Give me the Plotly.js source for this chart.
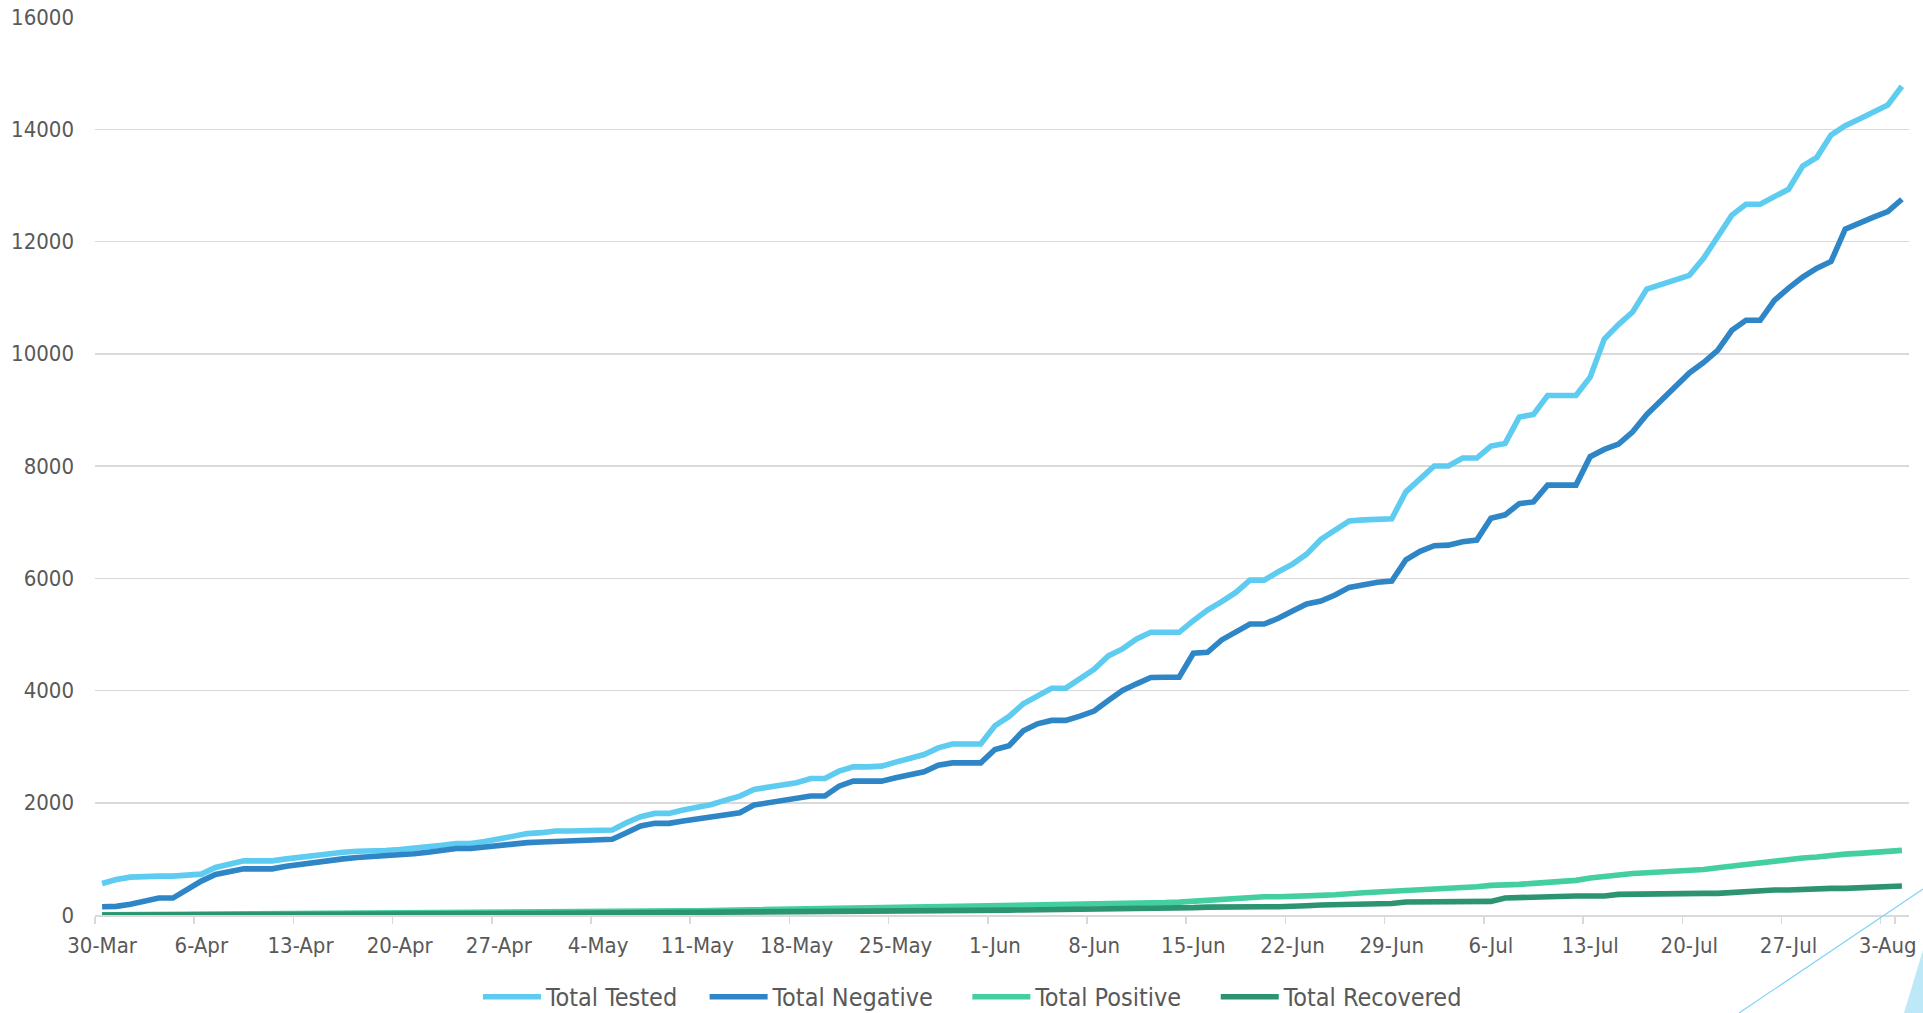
<!DOCTYPE html>
<html>
<head>
<meta charset="utf-8">
<script src="https://cdn.plot.ly/plotly-3.0.1.min.js"></script>
<style>
  html, body { margin: 0; padding: 0; background: #ffffff; }
  #chart { width: 1923px; height: 1013px; }
  #chart text { font-stretch: condensed; }
</style>
</head>
<body>
<div id="chart"></div>
<script>
// Daily series, 30-Mar to 4-Aug
const startDate = "2020-03-30";
const dayCount = 128;

const tickLabels = ["30-Mar","6-Apr","13-Apr","20-Apr","27-Apr","4-May","11-May","18-May","25-May",
  "1-Jun","8-Jun","15-Jun","22-Jun","29-Jun","6-Jul","13-Jul","20-Jul","27-Jul","3-Aug"];

const seriesNames = ["Total Tested","Total Negative","Total Positive","Total Recovered"];

const totalTested = [
  562,633,675,693,693,693,710,728,847,918,
  965,965,965,1000,1030,1072,1101,1119,1137,1137,
  1148,1166,1184,1220,1243,1273,1273,1308,1360,1395,
  1450,1467,1496,1496,1496,1496,1514,1644,1751,1810,
  1810,1870,1917,1970,2047,2119,2237,2273,2314,2356,
  2433,2433,2563,2640,2640,2652,2723,2788,2859,2978,
  3046,3046,3046,3372,3538,3763,3893,4041,4041,4201,
  4379,4616,4741,4919,5037,5037,5037,5244,5434,5582,
  5748,5967,5967,6116,6252,6430,6690,6856,7022,7040,
  7040,7060,7540,7760,8000,8000,8142,8142,8356,8403,
  8871,8919,9256,9256,9256,9582,10264,10519,10744,11153,
  11230,11301,11396,11700,12080,12470,12664,12664,12800,12930,
  13345,13499,13896,14062,14181,14299,14430,14767
];

const totalNegative = [
  148,154,190,243,302,302,450,604,722,776,
  822,822,822,870,906,918,965,1000,1024,1036,
  1048,1072,1090,1119,1155,1184,1184,1214,1235,1250,
  1290,1301,1307,1313,1330,1348,1348,1467,1585,1633,
  1633,1674,1716,1745,1781,1822,1959,2000,2047,2101,
  2119,2119,2296,2385,2385,2385,2444,2504,2551,2670,
  2710,2710,2710,2950,3016,3283,3407,3467,3467,3544,
  3633,3822,4000,4119,4231,4237,4237,4664,4681,4901,
  5049,5185,5185,5286,5416,5541,5594,5701,5837,5896,
  5930,5950,6330,6480,6580,6590,6650,6680,7070,7130,
  7330,7360,7660,7660,7660,8166,8296,8391,8610,8919,
  9173,9410,9659,9843,10062,10418,10596,10596,10950,11170,
  11366,11526,11644,12219,12338,12433,12533,12753
];

const totalPositive = [
  5,6,8,10,12,14,15,16,17,18,
  19,20,20,21,22,23,24,25,26,27,
  28,29,30,32,33,35,36,38,40,42,
  45,47,50,52,55,58,60,63,66,68,
  70,73,76,80,83,86,90,93,96,100,
  104,108,111,115,118,122,125,128,131,134,
  138,141,145,150,155,160,165,170,175,180,
  186,192,198,205,212,220,230,245,265,297,
  310,320,326,326,326,335,350,360,368,395,
  410,421,430,445,470,487,495,504,528,528,
  545,564,580,594,617,660,690,724,740,754,
  765,775,783,810,843,875,902,920,960,991,
  1015,1033,1068,1085,1098,1115,1128,1151
];

const totalRecovered = [
  0,0,1,1,2,2,3,3,4,5,
  6,7,8,8,9,10,11,12,13,14,
  15,16,17,18,19,20,21,22,24,25,
  26,27,28,30,31,32,34,35,37,38,
  40,42,44,46,48,50,52,54,56,58,
  60,62,64,65,67,69,70,72,74,76,
  78,80,82,85,87,89,91,93,95,98,
  100,103,106,110,114,118,124,131,140,148,
  148,148,148,148,148,165,178,185,190,190,
  190,205,231,237,243,243,243,243,243,303,
  315,325,338,338,338,338,338,368,375,380,
  386,386,386,386,386,405,427,440,445,445,
  460,475,475,475,490,500,508,516
];

// Category labels for each day (d-Mon)
const monthNames = ["Jan","Feb","Mar","Apr","May","Jun","Jul","Aug","Sep","Oct","Nov","Dec"];
const days = [];
{
  const d0 = new Date(startDate + "T00:00:00Z");
  for (let i = 0; i < dayCount; i++) {
    const d = new Date(d0.getTime() + i * 86400000);
    days.push(d.getUTCDate() + "-" + monthNames[d.getUTCMonth()]);
  }
}

const colors = ["#5ECBF0", "#2F86C7", "#43CFA0", "#2D9470"];
const legendPad = [3, 4, 4, 0]; // extra spacing after legend entries

const fontFamily = "'DejaVu Sans Condensed', 'Liberation Sans Narrow', 'Roboto Condensed', 'Liberation Sans', sans-serif";
const lw = 5.6;
const fs = 22;
const legendFs = 25;

const seriesValues = [totalTested, totalNegative, totalPositive, totalRecovered];
const data = seriesValues.map((vals, k) => ({
  type: "scatter", mode: "lines",
  name: seriesNames[k] + "\u00a0".repeat(legendPad[k]),
  x: days, y: vals,
  line: { color: colors[k], width: lw, shape: "linear" },
  hoverinfo: "x+y"
}));

const layout = {
  width: 1923, height: 1013,
  paper_bgcolor: "#ffffff", plot_bgcolor: "#ffffff",
  margin: { l: 95, r: 14, t: 17, b: 98, pad: 0, autoexpand: false },
  font: { family: fontFamily, size: fs, color: "#595959" },
  showlegend: true,
  legend: {
    orientation: "h", x: 0.484, xanchor: "center", y: -0.0913, yanchor: "middle",
    font: { family: fontFamily, size: legendFs, color: "#595959" },
    bgcolor: "rgba(0,0,0,0)", itemwidth: 58
  },
  xaxis: {
    type: "category",
    range: [-0.5, dayCount - 0.5],
    tickmode: "array",
    tickvals: tickLabels,
    ticktext: tickLabels,
    tickson: "boundaries",
    tickangle: 0,
    ticks: "outside", ticklen: 7, tickwidth: 1.5, tickcolor: "#D9D9D9",
    showgrid: false, zeroline: false,
    showline: true, linecolor: "#D9D9D9", linewidth: 1.5,
    tickfont: { family: fontFamily, size: fs, color: "#595959" },
    ticklabelstandoff: 10,
    automargin: false,
    fixedrange: true
  },
  yaxis: {
    range: [0, 16000], dtick: 2000, tick0: 0,
    tickformat: "d",
    showgrid: true, gridcolor: "#D9D9D9", gridwidth: 1.5,
    zeroline: false, showline: false, ticks: "",
    tickfont: { family: fontFamily, size: fs, color: "#595959" },
    ticklabelstandoff: 20,
    automargin: false,
    fixedrange: true
  },
  shapes: [
    { type: "line", xref: "paper", yref: "paper",
      x0: (1739 - 95) / 1814, y0: (915 - 1013) / 898,
      x1: (1923 - 95) / 1814, y1: (915 - 889) / 898,
      line: { color: "#7FD4F2", width: 1.2 }, layer: "above" },
    { type: "path", xref: "paper", yref: "paper",
      path: "M " + ((1904 - 95) / 1814) + "," + ((915 - 1013) / 898) +
            " L " + ((1923 - 95) / 1814) + "," + ((915 - 1013) / 898) +
            " L " + ((1923 - 95) / 1814) + "," + ((915 - 950) / 898) + " Z",
      fillcolor: "#BDE8F7", line: { width: 0 }, layer: "above" }
  ]
};

Plotly.newPlot("chart", data, layout, { displayModeBar: false, staticPlot: true });
</script>
</body>
</html>
